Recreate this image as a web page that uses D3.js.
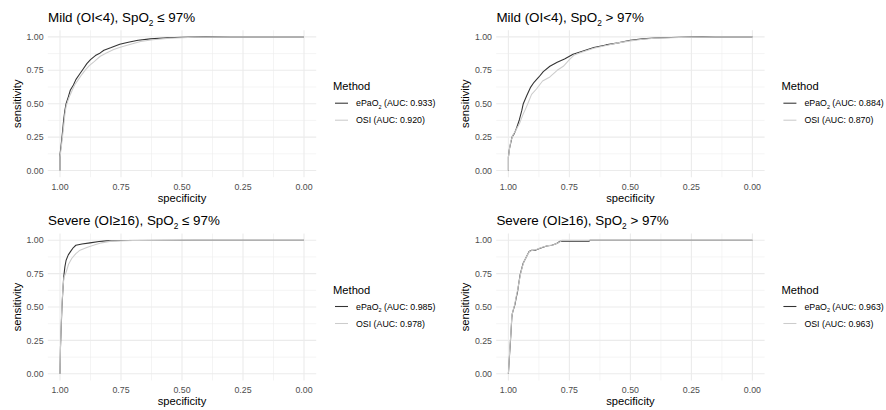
<!DOCTYPE html>
<html><head><meta charset="utf-8">
<script src="https://cdn.jsdelivr.net/npm/d3@7"></script>
<style>body{margin:0;background:#fff}svg{display:block;font-family:"Liberation Sans",Arial,Helvetica,sans-serif}</style>
</head><body><svg id="c" width="886" height="410"></svg>
<script>
// ---- data ----
const xTicks = [1, 0.75, 0.5, 0.25, 0];
const yTicks = [0, 0.25, 0.5, 0.75, 1];
const tickLabels = ["1.00", "0.75", "0.50", "0.25", "0.00"];
const yTickLabels = ["0.00", "0.25", "0.50", "0.75", "1.00"];
const methods = ["ePaO2", "OSI"];
const panelGroups = ["Mild (OI<4)", "Mild (OI<4)", "Severe (OI\u226516)", "Severe (OI\u226516)"];
const panelConds = ["\u2264 97%", "> 97%", "\u2264 97%", "> 97%"];
const aucEpao2 = ["0.933", "0.884", "0.985", "0.963"];
const aucOsi = ["0.920", "0.870", "0.978", "0.963"];

// panel 1: Mild, SpO2 <= 97%
const p1Epao2 = [[1,0],[1,0.12],[0.996,0.18],[0.993,0.23],[0.989,0.30],[0.985,0.38],[0.98,0.45],[0.975,0.5],[0.966,0.55],[0.958,0.6],[0.945,0.64],[0.935,0.68],[0.92,0.72],[0.905,0.76],[0.89,0.80],[0.875,0.83],[0.855,0.86],[0.835,0.88],[0.82,0.90],[0.79,0.92],[0.755,0.945],[0.72,0.96],[0.68,0.975],[0.63,0.985],[0.56,0.993],[0.5,0.997],[0.4,1],[0,1]];
const p1Osi = [[1,0],[1,0.1],[0.995,0.17],[0.99,0.25],[0.985,0.33],[0.98,0.42],[0.975,0.48],[0.968,0.52],[0.96,0.56],[0.95,0.6],[0.94,0.64],[0.925,0.68],[0.91,0.72],[0.895,0.755],[0.88,0.785],[0.86,0.815],[0.835,0.855],[0.81,0.88],[0.78,0.905],[0.75,0.925],[0.71,0.945],[0.67,0.965],[0.62,0.978],[0.55,0.99],[0.45,0.997],[0.3,1],[0,1]];
// panel 2: Mild, SpO2 > 97%
const p2Epao2 = [[1,0],[1,0.1],[0.996,0.16],[0.99,0.21],[0.985,0.25],[0.975,0.28],[0.966,0.32],[0.955,0.38],[0.945,0.45],[0.939,0.5],[0.925,0.56],[0.91,0.62],[0.895,0.66],[0.875,0.70],[0.857,0.74],[0.83,0.78],[0.80,0.81],[0.77,0.835],[0.735,0.87],[0.70,0.89],[0.65,0.92],[0.6,0.94],[0.55,0.955],[0.5,0.975],[0.45,0.985],[0.4,0.992],[0.3,0.997],[0.2,1],[0,1]];
const p2Osi = [[1,0],[1,0.1],[0.995,0.17],[0.99,0.22],[0.98,0.27],[0.97,0.3],[0.955,0.35],[0.94,0.42],[0.925,0.48],[0.905,0.57],[0.885,0.61],[0.86,0.67],[0.83,0.70],[0.80,0.75],[0.775,0.78],[0.75,0.83],[0.73,0.865],[0.70,0.885],[0.65,0.915],[0.6,0.935],[0.55,0.955],[0.5,0.97],[0.45,0.982],[0.4,0.99],[0.3,0.996],[0.15,1],[0,1]];
// panel 3: Severe, SpO2 <= 97%
const p3Epao2 = [[1,0],[0.998,0.2],[0.995,0.35],[0.992,0.5],[0.989,0.6],[0.985,0.72],[0.98,0.8],[0.975,0.85],[0.966,0.89],[0.955,0.92],[0.945,0.945],[0.935,0.962],[0.91,0.972],[0.877,0.98],[0.84,0.99],[0.81,0.995],[0.75,0.997],[0.45,1],[0,1]];
const p3Osi = [[1,0],[0.998,0.2],[0.995,0.38],[0.992,0.52],[0.988,0.64],[0.984,0.72],[0.975,0.76],[0.965,0.82],[0.952,0.863],[0.935,0.9],[0.918,0.925],[0.89,0.945],[0.863,0.962],[0.83,0.98],[0.79,0.993],[0.7,0.997],[0.5,1],[0,1]];
// panel 4: Severe, SpO2 > 97%
const p4Epao2 = [[1,0],[0.995,0.15],[0.99,0.29],[0.986,0.42],[0.984,0.45],[0.978,0.49],[0.973,0.52],[0.968,0.57],[0.963,0.61],[0.958,0.67],[0.952,0.74],[0.945,0.79],[0.939,0.83],[0.925,0.88],[0.915,0.915],[0.905,0.925],[0.89,0.925],[0.87,0.94],[0.843,0.957],[0.822,0.962],[0.802,0.975],[0.788,0.992],[0.67,0.992],[0.665,1],[0,1]];
const p4Osi = [[1,0],[0.995,0.17],[0.99,0.3],[0.986,0.43],[0.98,0.48],[0.974,0.52],[0.968,0.58],[0.962,0.63],[0.956,0.69],[0.95,0.75],[0.943,0.8],[0.935,0.845],[0.922,0.89],[0.912,0.918],[0.9,0.925],[0.885,0.93],[0.865,0.945],[0.84,0.958],[0.815,0.965],[0.795,0.98],[0.78,1],[0,1]];

const curvesEpao2 = [p1Epao2, p2Epao2, p3Epao2, p4Epao2];
const curvesOsi = [p1Osi, p2Osi, p3Osi, p4Osi];

// ---- layout ----
const svg = d3.select("#c");
const colours = {ePaO2: "#333333", OSI: "#CCCCCC"};
const colX = [0, 448.4];
const rowY = [0, 203.3];
const grid = "#EBEBEB";

function sub(textSel, base, subTxt, rest, size) {
  textSel.append("tspan").text(base);
  textSel.append("tspan").text(subTxt).attr("font-size", size * 0.62).attr("dy", size * 0.3);
  textSel.append("tspan").text(rest).attr("dy", -size * 0.3);
}

for (let i = 0; i < 4; i++) {
  const ox = colX[i % 2], oy = rowY[Math.floor(i / 2)];
  const x = d3.scaleLinear().domain([1.05, -0.05]).range([47.8 + ox, 316.2 + ox]);
  const y = d3.scaleLinear().domain([-0.05, 1.05]).range([177.2 + oy, 30.2 + oy]);
  const g = svg.append("g");
  const minor = [0.125, 0.375, 0.625, 0.875];
  // minor grid
  g.selectAll(".mx").data(minor).join("line")
    .attr("x1", d => x(d)).attr("x2", d => x(d)).attr("y1", y.range()[0]).attr("y2", y.range()[1])
    .attr("stroke", grid).attr("stroke-width", 0.55);
  g.selectAll(".my").data(minor).join("line")
    .attr("y1", d => y(d)).attr("y2", d => y(d)).attr("x1", x.range()[0]).attr("x2", x.range()[1])
    .attr("stroke", grid).attr("stroke-width", 0.55);
  // major grid
  g.selectAll(".Mx").data(xTicks).join("line")
    .attr("x1", d => x(d)).attr("x2", d => x(d)).attr("y1", y.range()[0]).attr("y2", y.range()[1])
    .attr("stroke", grid).attr("stroke-width", 1.1);
  g.selectAll(".My").data(yTicks).join("line")
    .attr("y1", d => y(d)).attr("y2", d => y(d)).attr("x1", x.range()[0]).attr("x2", x.range()[1])
    .attr("stroke", grid).attr("stroke-width", 1.1);

  // tick labels
  g.selectAll(".xl").data(xTicks).join("text")
    .attr("x", d => x(d)).attr("y", 190 + oy).attr("text-anchor", "middle")
    .attr("font-size", 8.8).attr("fill", "#4D4D4D").text((d, k) => tickLabels[k]);
  g.selectAll(".yl").data(yTicks).join("text")
    .attr("x", 43.6 + ox).attr("y", d => y(d) + 3.2).attr("text-anchor", "end")
    .attr("font-size", 8.8).attr("fill", "#4D4D4D").text((d, k) => yTickLabels[k]);

  // axis titles
  g.append("text").attr("x", (x.range()[0] + x.range()[1]) / 2).attr("y", 201.5 + oy)
    .attr("text-anchor", "middle").attr("font-size", 11.2).attr("fill", "#000").text("specificity");
  const cy = (y.range()[0] + y.range()[1]) / 2;
  g.append("text").attr("transform", `translate(${20.5 + ox},${cy}) rotate(-90)`)
    .attr("text-anchor", "middle").attr("font-size", 11.2).attr("fill", "#000").text("sensitivity");

  // title
  const t = g.append("text").attr("x", 48 + ox).attr("y", 21.7 + oy).attr("font-size", 13.4).attr("fill", "#000");
  sub(t, panelGroups[i] + ", SpO", "2", " " + panelConds[i], 13.4);

  // curves
  const line = d3.line().x(d => x(d[0])).y(d => y(d[1]));
  g.append("path").attr("d", line(curvesEpao2[i])).attr("fill", "none")
    .attr("stroke", colours.ePaO2).attr("stroke-width", 1.07).attr("stroke-linejoin", "round");
  g.append("path").attr("d", line(curvesOsi[i])).attr("fill", "none")
    .attr("stroke", colours.OSI).attr("stroke-width", 1.07).attr("stroke-linejoin", "round");

  // legend
  const lx = 333 + ox, ly = cy - 17.5;
  g.append("text").attr("x", lx).attr("y", ly + 4).attr("font-size", 11.2).attr("fill", "#000").text("Method");
  const entries = [
    {m: "ePaO2", base: "ePaO", s: "2", rest: " (AUC: " + aucEpao2[i] + ")"},
    {m: "OSI", base: "OSI (AUC: " + aucOsi[i] + ")", s: "", rest: ""}
  ];
  entries.forEach((e, k) => {
    const ey = ly + 17 + k * 17;
    g.append("line").attr("x1", lx + 2).attr("x2", lx + 15).attr("y1", ey).attr("y2", ey)
      .attr("stroke", colours[e.m]).attr("stroke-width", 1.07);
    const tt = g.append("text").attr("x", lx + 23).attr("y", ey + 3.2).attr("font-size", 8.8).attr("fill", "#000");
    if (e.s) sub(tt, e.base, e.s, e.rest, 8.8); else tt.text(e.base);
  });
}
</script></body></html>
